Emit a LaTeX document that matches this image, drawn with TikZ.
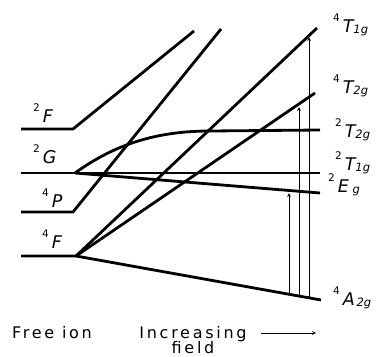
\documentclass[tikz,border=0pt]{standalone}
\usepackage{fontspec}
\setmainfont{DejaVu Sans}
\newfontfamily\widefont[LetterSpace=17]{DejaVu Sans}
\usetikzlibrary{arrows}
\newcommand{\term}[3]{\raisebox{0.58em}{\upshape\fontsize{10.5}{11}\selectfont #1}\,#2\raisebox{-0.08em}{\fontsize{11.5}{12}\selectfont #3}}
\begin{document}
\begin{tikzpicture}[x=1pt,y=-1pt,>=stealth,
  level/.style={line width=2.8pt},
  trans/.style={->, line width=0.8pt},
  term/.style={font=\fontsize{17.5}{19}\selectfont\itshape, inner sep=0pt, anchor=base west},
  caption/.style={font=\widefont\fontsize{16}{18}\selectfont, inner sep=0pt, anchor=base}]
\useasboundingbox (0,0) rectangle (376,357);
% free ion ends
\coordinate (F2a) at (21,129);
\coordinate (F2b) at (73,129);
\coordinate (G2a) at (21,173);
\coordinate (G2b) at (75,173);
\coordinate (P4a) at (21,212);
\coordinate (P4b) at (73,212);
\coordinate (F4a) at (21,256);
\coordinate (F4b) at (76,256);
% field ends
\coordinate (F2e) at (194,31);
\coordinate (P4e) at (221,29);
\coordinate (T1q) at (317,28);
\coordinate (T2q) at (315,93);
\coordinate (T2d) at (320,130);
\coordinate (T1d) at (320,173);
\coordinate (Ed) at (320,193);
\coordinate (A2q) at (321,300);
% levels
\draw[level] (F2a) -- (F2b) -- (F2e);
\draw[level] (G2a) -- (T1d);
\draw[level] (G2b) .. controls (110,148) and (150,131) .. (210,131) -- (T2d);
\draw[level] (G2b) -- (Ed);
\draw[level] (P4a) -- (P4b) -- (P4e);
\draw[level] (F4a) -- (F4b) -- (T1q);
\draw[level] (F4b) -- (T2q);
\draw[level] (F4b) -- (A2q);
% transitions
\coordinate (s1) at (289,294.3);
\coordinate (e1) at (289,193);
\coordinate (s2) at (299,296);
\coordinate (e2) at (299,107);
\coordinate (s3) at (309,297.8);
\coordinate (e3) at (309,37);
\draw[trans] (s1) -- (e1);
\draw[trans] (s2) -- (e2);
\draw[trans] (s3) -- (e3);
% labels
\node[term] (lF2) at (33,122) {\term{2}{F}{}};
\node[term] (lG2) at (33,163) {\term{2}{G}{}};
\node[term] (lP4) at (42,207) {\term{4}{P}{}};
\node[term] (lF4) at (42,248) {\term{4}{F}{}};
\node[term] (lT1q) at (333,32) {\term{4}{T}{1g}};
\node[term] (lT2q) at (333,93) {\term{4}{T}{2g}};
\node[term] (lT2d) at (335,137) {\term{2}{T}{2g}};
\node[term] (lT1d) at (335,170) {\term{2}{T}{1g}};
\node[term] (lEd) at (328,192) {\term{2}{E}{\,\,g}};
\node[term] (lA2q) at (333,305) {\term{4}{A}{\,2g}};
\node[caption] (free) at (52,338) {Free ion};
\node[caption] (inc) at (193,338) {Increasing};
\node[caption] (fld) at (193,353) {field};
\coordinate (fs) at (261,333);
\coordinate (fe) at (316,333);
\draw[->, line width=0.8pt] (fs) -- (fe);
\end{tikzpicture}
\end{document}
